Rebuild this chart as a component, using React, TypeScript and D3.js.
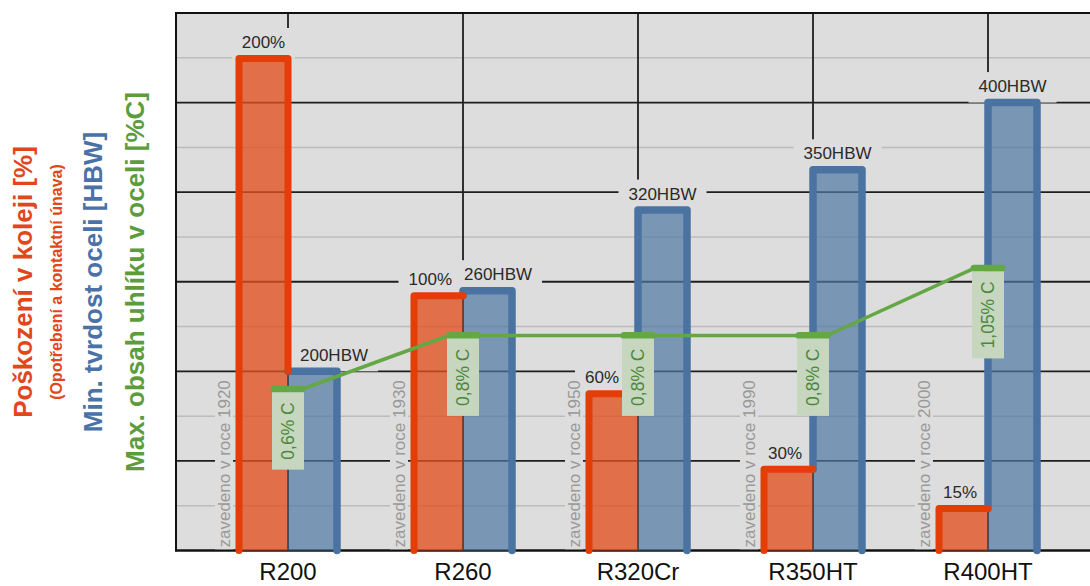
import React, { useEffect, useRef } from 'react';
import * as d3 from 'd3';

// ---- data ----
const categories = ['R200', 'R260', 'R320Cr', 'R350HT', 'R400HT'];
const damagePct = [200, 100, 60, 30, 15];
const hardnessHBW = [200, 260, 320, 350, 400];
const carbonPct = [0.6, 0.8, 0.8, 0.8, 1.05];
const introducedYear = [1920, 1930, 1950, 1990, 2000];
const carbonLabels = ['0,6% C', '0,8% C', '0,8% C', '0,8% C', '1,05% C'];
const hardnessGridTicks = [200 / 3, 400 / 3, 600 / 3, 800 / 3, 1000 / 3, 1200 / 3, 1400 / 3];

const W = 1090;
const H = 586;
const M = { left: 176, right: 1100, top: 13, bottom: 550.5 };
const BG = '#dddddd';
const FONT = '"Liberation Sans", Arial, Helvetica, sans-serif';
const ORANGE = '#e33d08';
const ORANGE_FILL = '#e2501f';
const BLUE = '#4a73a2';
const BLUE_FILL = '#4f77a3';
const GREEN = '#64a745';
const GREEN_TEXT = '#4b883b';

export default function App() {
  const ref = useRef<SVGSVGElement | null>(null);

  useEffect(() => {
    const svg = d3.select(ref.current);
    svg.selectAll('*').remove();

    const x = d3.scalePoint<string>().domain(categories).range([M.left, M.right]).padding(0.64);
    const sub = d3.scaleBand<string>().domain(['damage', 'hardness']).range([-49, 49]);
    const yDamage = d3.scalePow().exponent(0.95).domain([0, 200]).range([M.bottom, 58.5]);
    const yHard = d3.scaleLinear().domain([200 / 3, 1400 / 3]).range([M.bottom, M.top]);
    const yCarbon = d3.scaleLinear().domain([0, 2]).range([M.bottom, M.top]);

    // plot background
    svg.append('rect').attr('x', M.left).attr('y', M.top)
      .attr('width', M.right - M.left).attr('height', M.bottom - M.top).attr('fill', BG);

    const gGrid = svg.append('g');
    // minor grid (midpoints)
    for (let i = 0; i < hardnessGridTicks.length - 1; i++) {
      const v = (hardnessGridTicks[i] + hardnessGridTicks[i + 1]) / 2;
      gGrid.append('line').attr('x1', M.left).attr('x2', M.right)
        .attr('y1', yHard(v)).attr('y2', yHard(v))
        .attr('stroke', '#bcbcbc').attr('stroke-width', 1.5);
    }
    hardnessGridTicks.forEach((v) => {
      gGrid.append('line').attr('x1', M.left).attr('x2', M.right)
        .attr('y1', yHard(v)).attr('y2', yHard(v))
        .attr('stroke', '#1e1e1e').attr('stroke-width', 1.8);
    });
    categories.forEach((c) => {
      gGrid.append('line').attr('x1', x(c)!).attr('x2', x(c)!)
        .attr('y1', M.top).attr('y2', M.bottom)
        .attr('stroke', '#1e1e1e').attr('stroke-width', 1.8);
    });
    // left axis
    svg.append('line').attr('x1', M.left).attr('x2', M.left).attr('y1', M.top - 1).attr('y2', M.bottom + 1)
      .attr('stroke', '#111').attr('stroke-width', 2);

    const gBg = svg.append('g');
    const gBars = svg.append('g');
    const gLine = svg.append('g');
    const gCarbon = svg.append('g');
    const gText = svg.append('g');

    // year labels
    categories.forEach((c, i) => {
      const g = gText.append('g').attr('transform', `translate(${x(c)! - 64},${M.bottom - 3}) rotate(-90)`);
      const t = g.append('text').attr('x', 0).attr('y', 0)
        .attr('dominant-baseline', 'central')
        .attr('font-family', FONT).attr('font-size', 17).attr('fill', '#999999')
        .text(`zavedeno v roce ${introducedYear[i]}`);
      const len = (t.node() as SVGTextElement).getComputedTextLength();
      const bg = gBg.append('g').attr('transform', `translate(${x(c)! - 64},${M.bottom - 3}) rotate(-90)`);
      bg.append('rect').attr('x', -3).attr('y', -9).attr('width', len + 6).attr('height', 18).attr('fill', BG);
    });

    categories.forEach((c, i) => {
      const cx = x(c)!;
      const x0 = cx + sub('damage')!;
      const j = cx + sub('hardness')!;
      const x1 = j + sub.bandwidth();
      const oTop = yDamage(damagePct[i]);
      const bTop = yHard(hardnessHBW[i]);
      const bottom = M.bottom;

      // fills
      gBars.append('rect').attr('x', j).attr('y', bTop).attr('width', x1 - j).attr('height', bottom - bTop)
        .attr('fill', BLUE_FILL).attr('fill-opacity', 0.7);
      gBars.append('rect').attr('x', x0).attr('y', oTop).attr('width', j - x0).attr('height', bottom - oTop)
        .attr('fill', ORANGE_FILL).attr('fill-opacity', 0.78);
      // joint line
      gBars.append('line').attr('x1', j).attr('x2', j).attr('y1', Math.max(oTop, bTop)).attr('y2', bottom)
        .attr('stroke', '#3a3a3a').attr('stroke-width', 1.2).attr('stroke-opacity', 0.8);
      // outlines
      const op = d3.path();
      op.moveTo(x0, bottom); op.lineTo(x0, oTop); op.lineTo(j, oTop);
      if (oTop < bTop) op.lineTo(j, bTop);
      const bp = d3.path();
      if (bTop < oTop) { bp.moveTo(j, oTop); bp.lineTo(j, bTop); } else { bp.moveTo(j, bTop); }
      bp.lineTo(x1, bTop); bp.lineTo(x1, bottom);
      gBars.append('path').attr('d', bp.toString()).attr('fill', 'none').attr('stroke', BLUE)
        .attr('stroke-width', 7.5).attr('stroke-linejoin', 'round').attr('stroke-linecap', 'round');
      gBars.append('path').attr('d', op.toString()).attr('fill', 'none').attr('stroke', ORANGE)
        .attr('stroke-width', 7).attr('stroke-linejoin', 'round').attr('stroke-linecap', 'round');

      // carbon box
      const cy = yCarbon(carbonPct[i]);
      const cg = gCarbon.append('g').attr('transform', `translate(${cx},${cy + 3})`);
      const rect = cg.append('rect').attr('x', -16).attr('y', 0).attr('width', 32).attr('fill', '#c7d7bf');
      const ct = cg.append('text').attr('text-anchor', 'middle').attr('dominant-baseline', 'central')
        .attr('font-family', FONT).attr('font-size', 17.5).attr('fill', GREEN_TEXT).text(carbonLabels[i]);
      const clen = (ct.node() as SVGTextElement).getComputedTextLength();
      const bh = clen + 20;
      rect.attr('height', bh);
      ct.attr('transform', `translate(0,${bh / 2}) rotate(-90)`);
      const boxTop = cy + 3;
      const boxBottom = cy + 3 + bh;

      // orange label
      const oBase = oTop - 10.5;
      const ot = gText.append('text').attr('text-anchor', 'middle').attr('y', oBase)
        .attr('font-family', FONT).attr('font-size', 17).attr('fill', '#2a2a2a').text(`${damagePct[i]}%`);
      const ow = (ot.node() as SVGTextElement).getComputedTextLength();
      let ocx = (x0 + j) / 2;
      if (bTop < oTop - 5) ocx = Math.min(ocx, j - 11 - ow / 2);
      if (oBase > boxTop && oBase - 13 < boxBottom) ocx = Math.min(ocx, cx - 16 - 3 - ow / 2);
      ot.attr('x', ocx);
      gBg.append('rect').attr('x', ocx - ow / 2 - 10).attr('y', oBase - 20)
        .attr('width', ow + 20).attr('height', oTop - (oBase - 20)).attr('fill', BG);

      // blue label
      const bBase = bTop - 10.5;
      const bt = gText.append('text').attr('text-anchor', 'middle').attr('y', bBase)
        .attr('font-family', FONT).attr('font-size', 17).attr('fill', '#2a2a2a').text(`${hardnessHBW[i]}HBW`);
      const bw = (bt.node() as SVGTextElement).getComputedTextLength();
      let bcx = (j + x1) / 2;
      if (oTop < bTop - 5) bcx = Math.max(bcx, j + 12 + bw / 2);
      if (Math.abs(bBase - oBase) < 20) bcx = Math.max(bcx, ocx + ow / 2 + 12 + bw / 2);
      bt.attr('x', bcx);
      gBg.append('rect').attr('x', bcx - bw / 2 - 10).attr('y', bBase - 20)
        .attr('width', bw + 20).attr('height', bTop - (bBase - 20)).attr('fill', BG);

      // category label
      gText.append('text').attr('x', cx).attr('y', 580).attr('text-anchor', 'middle')
        .attr('font-family', FONT).attr('font-size', 24).attr('fill', '#111').text(c);
    });

    // bottom & top frame lines
    svg.insert('line', () => gBars.node()).attr('x1', M.left - 1).attr('x2', M.right).attr('y1', M.bottom).attr('y2', M.bottom)
      .attr('stroke', '#111').attr('stroke-width', 2.2);
    svg.insert('line', () => gBars.node()).attr('x1', M.left - 1).attr('x2', M.right).attr('y1', M.top).attr('y2', M.top)
      .attr('stroke', '#111').attr('stroke-width', 2);

    // carbon line
    const pts: [number, number][] = [];
    categories.forEach((c, i) => {
      const cx = x(c)!;
      const cy = yCarbon(carbonPct[i]);
      pts.push([cx - 14, cy], [cx + 14, cy]);
    });
    gLine.append('path').attr('d', d3.line()(pts)!).attr('fill', 'none').attr('stroke', GREEN)
      .attr('stroke-width', 3.5).attr('stroke-linejoin', 'round');
    categories.forEach((c, i) => {
      const cx = x(c)!;
      const cy = yCarbon(carbonPct[i]);
      gLine.append('line').attr('x1', cx - 14).attr('x2', cx + 14).attr('y1', cy).attr('y2', cy)
        .attr('stroke', GREEN).attr('stroke-width', 7).attr('stroke-linecap', 'round');
    });

    // axis titles
    const titles = [
      { t: 'Poškození v koleji [%]', x: 23, size: 26, color: '#e2461b' },
      { t: '(Opotřebení a kontaktní únava)', x: 56, size: 16, color: '#e2461b' },
      { t: 'Min. tvrdost oceli [HBW]', x: 93, size: 26, color: '#4a72a6' },
      { t: 'Max. obsah uhlíku v oceli [%C]', x: 135, size: 26, color: '#5c9c3c' },
    ];
    titles.forEach((d) => {
      svg.append('text').attr('transform', `translate(${d.x},282) rotate(-90)`)
        .attr('text-anchor', 'middle').attr('dominant-baseline', 'central')
        .attr('font-family', FONT).attr('font-weight', 'bold').attr('font-size', d.size)
        .attr('fill', d.color).text(d.t);
    });
  }, []);

  return (
    <svg ref={ref} width={W} height={H}
      style={{ position: 'fixed', left: 0, top: 0, background: '#fff', display: 'block' }} />
  );
}
